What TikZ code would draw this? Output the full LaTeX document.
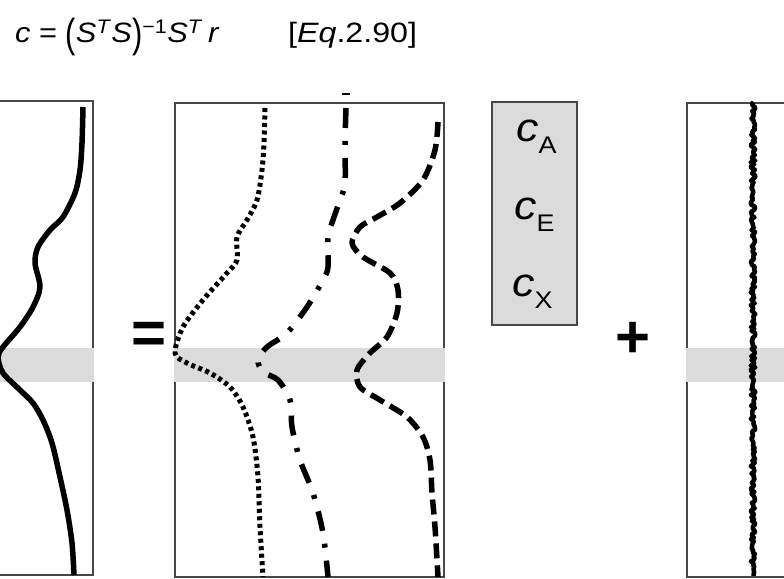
\documentclass[tikz,border=0pt]{standalone}
\usepackage{fontspec}
\setmainfont{Liberation Sans}
\usepackage{graphicx}
\usetikzlibrary{positioning}
\tikzset{
  panel/.style={draw=black!72, line width=2pt},
  band/.style={fill=black!14},
  trace/.style={line width=5.5pt, line join=round},
  dotline/.style={trace, line width=5pt, dash pattern=on 4pt off 3.5pt},
  dashdotline/.style={trace, dash pattern=on 20pt off 13pt on 4pt off 13pt},
  dashline/.style={trace, dash pattern=on 15pt off 7pt},
  eqtxt/.style={font=\fontsize{28}{30}\selectfont, inner sep=0pt, anchor=base west},
  clab/.style={inner sep=0pt, anchor=base west},
  opsign/.style={font=\fontsize{60}{60}\selectfont\bfseries, inner sep=0pt}
}
\newcommand{\conc}[1]{\scalebox{1.12}[1]{{\fontsize{40}{40}\selectfont\itshape c}{\fontsize{24}{24}\selectfont\raisebox{-12pt}{#1}}}}
\newcommand{\tallparen}[1]{\raisebox{-5pt}{\scalebox{1}[1.45]{#1}}}

\begin{document}
\begin{tikzpicture}[x=1pt, y=-1pt]
\useasboundingbox (0,0) rectangle (784,578);
\clip (0,0) rectangle (784,578);
\node[eqtxt] (eq) at (15,43) {\scalebox{1.1}[1]{\textit{c} = \tallparen{(}\textit{S}\textsuperscript{\textit{T}}\textit{S}\tallparen{)}\textsuperscript{−1}\textit{S}\textsuperscript{\textit{T}}\,\textit{r}}};
\node[eqtxt] (eqtag) at (288,43) {\scalebox{1.15}[1]{[\textit{Eq}.2.90]}};
\draw[panel] (-10,101) rectangle (93,575);
\draw[panel] (175,103) rectangle (444,577);
\draw[panel] (687,103) rectangle (800,577);
\fill[band] (-10,348) rectangle (94,382);
\fill[band] (174,348) rectangle (445,382);
\fill[band] (686,348) rectangle (800,382);
\draw[trace] plot[smooth] coordinates {(83,107) (82,143) (80,170) (75,193) (63,217) (50,230) (38,247) (35,263) (40,287) (33,307) (20,327) (3,347) (-2,357) (3,373) (20,390) (33,403) (43,420) (52,443) (60,477) (67,510) (72,543) (74,575)};
\draw[dotline] plot[smooth] coordinates {(265,108) (264,143) (262,170) (257,200) (247,220) (237,237) (237,260) (227,273) (203,300) (183,327) (175,353) (187,363) (210,373) (230,387) (243,407) (253,437) (258,477) (260,527) (263,577)};
\draw[line width=1.5pt] (342,94) -- (350,94);
\draw[dashdotline] plot[smooth] coordinates {(346,108) (345,143) (345,183) (340,200) (333,220) (328,237) (328,267) (323,280) (307,307) (287,333) (267,347) (258,360) (263,372) (278,380) (290,400) (292,427) (300,460) (313,493) (323,533) (328,577)};
\draw[dashline] plot[smooth] coordinates {(438,122) (435,150) (423,180) (400,203) (377,217) (360,227) (352,243) (363,257) (390,273) (398,290) (397,313) (387,337) (370,353) (357,370) (360,387) (380,400) (407,417) (423,437) (430,460) (432,493) (435,527) (438,577)};
\node[opsign] (equals) at (149,338) {=};
\node[panel, band, minimum width=85pt, minimum height=223pt] (cbox) at (534.5,213.5) {};
\node[clab] (cA) at (516,141) {\conc{A}};
\node[clab] (cE) at (514,219) {\conc{E}};
\node[clab] (cX) at (512,296) {\conc{X}};
\node[opsign] (plus) at (633,340) {+};
\pgfmathsetseed{7}
\draw[trace, line width=4.5pt] plot[domain=102:576, samples=260, variable=\t] ({753+2.3*rand}, \t);
\end{tikzpicture}
\end{document}
